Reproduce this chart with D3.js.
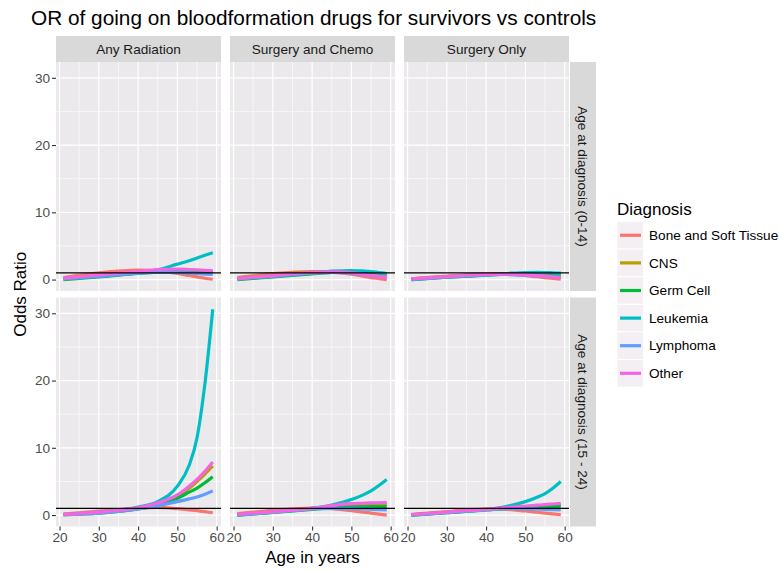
<!DOCTYPE html>
<html>
<head>
<meta charset="utf-8">
<script src="https://cdn.jsdelivr.net/npm/d3@7"></script>
<style>
  html, body { margin: 0; padding: 0; background: #ffffff; }
  svg { display: block; font-family: "Liberation Sans", Arial, sans-serif; }
</style>
</head>
<body>
<svg id="chart" width="779" height="571"></svg>
<script>
// Ages at which the smoothed odds ratios are drawn
const ages = [21, 30, 40, 45, 50, 53, 55, 57, 59];

const diagnoses = ["Bone and Soft Tissue", "CNS", "Germ Cell", "Leukemia", "Lymphoma", "Other"];
const diagnosisColors = ["#F8766D", "#B79F00", "#00BA38", "#00BFC4", "#619CFF", "#F564E3"];
const treatments = ["Any Radiation", "Surgery and Chemo", "Surgery Only"];
const ageGroups = ["Age at diagnosis (0-14)", "Age at diagnosis (15 - 24)"];
const xTicks = [20, 30, 40, 50, 60];
const yTicks = [0, 10, 20, 30];

// Odds ratios per panel; one row per diagnosis (same order as `diagnoses`)
const radiationYoung = [
  [0.30, 1.00, 1.40, 1.30, 0.90, 0.60, 0.40, 0.20, 0.05],
  [0.20, 0.70, 1.15, 1.35, 1.40, 1.35, 1.30, 1.25, 1.20],
  [0.00, 0.40, 0.90, 1.10, 1.25, 1.22, 1.20, 1.15, 1.10],
  [0.15, 0.50, 1.00, 1.45, 2.30, 2.80, 3.20, 3.60, 4.00],
  [0.10, 0.50, 0.95, 1.10, 1.05, 0.96, 0.90, 0.82, 0.75],
  [0.20, 0.70, 1.20, 1.50, 1.55, 1.50, 1.45, 1.38, 1.30]
];
const radiationOlder = [
  [0.15, 0.60, 1.00, 1.15, 0.95, 0.78, 0.65, 0.50, 0.35],
  [0.10, 0.40, 1.05, 1.70, 2.80, 4.00, 5.00, 6.10, 7.30],
  [0.05, 0.30, 0.90, 1.50, 2.50, 3.40, 4.00, 4.80, 5.70],
  [0.05, 0.45, 1.20, 2.00, 4.30, 7.40, 11.5, 19.5, 30.6],
  [0.05, 0.30, 0.90, 1.40, 2.00, 2.40, 2.70, 3.10, 3.60],
  [0.10, 0.45, 1.10, 1.80, 3.00, 4.30, 5.30, 6.50, 7.90]
];
const chemoYoung = [
  [0.30, 0.90, 1.20, 1.10, 0.80, 0.50, 0.30, 0.15, 0.00],
  [0.20, 0.70, 1.10, 1.15, 1.00, 0.82, 0.70, 0.60, 0.50],
  [0.00, 0.40, 0.85, 1.05, 1.15, 1.10, 1.05, 0.98, 0.90],
  [0.10, 0.50, 1.00, 1.25, 1.35, 1.28, 1.20, 1.05, 0.90],
  [0.10, 0.50, 0.95, 1.05, 0.90, 0.72, 0.60, 0.48, 0.35],
  [0.15, 0.60, 1.05, 1.15, 1.00, 0.78, 0.60, 0.45, 0.30]
];
const chemoOlder = [
  [0.20, 0.70, 1.05, 0.95, 0.65, 0.45, 0.30, 0.15, 0.00],
  [0.10, 0.50, 1.00, 1.30, 1.50, 1.57, 1.60, 1.60, 1.60],
  [0.00, 0.40, 0.85, 1.10, 1.20, 1.23, 1.25, 1.25, 1.25],
  [0.00, 0.40, 1.00, 1.50, 2.30, 3.00, 3.60, 4.40, 5.30],
  [0.05, 0.45, 0.90, 1.00, 0.95, 0.90, 0.85, 0.80, 0.75],
  [0.10, 0.50, 1.00, 1.40, 1.70, 1.76, 1.80, 1.83, 1.85]
];
const surgeryYoung = [
  [0.10, 0.50, 0.80, 0.80, 0.60, 0.42, 0.30, 0.18, 0.05],
  [0.10, 0.45, 0.75, 0.80, 0.70, 0.58, 0.50, 0.42, 0.35],
  [0.00, 0.35, 0.65, 0.80, 0.85, 0.83, 0.80, 0.75, 0.70],
  [0.00, 0.35, 0.70, 0.90, 1.05, 1.06, 1.05, 1.00, 0.95],
  [0.05, 0.40, 0.70, 0.75, 0.65, 0.56, 0.50, 0.42, 0.35],
  [0.10, 0.45, 0.75, 0.80, 0.70, 0.58, 0.50, 0.40, 0.30]
];
const surgeryOlder = [
  [0.10, 0.50, 0.90, 0.85, 0.60, 0.42, 0.30, 0.18, 0.05],
  [0.05, 0.45, 0.85, 1.05, 1.25, 1.35, 1.40, 1.45, 1.50],
  [0.00, 0.35, 0.75, 1.00, 1.15, 1.21, 1.25, 1.28, 1.30],
  [0.00, 0.35, 0.80, 1.25, 2.00, 2.65, 3.20, 4.00, 5.00],
  [0.05, 0.40, 0.80, 0.95, 0.90, 0.87, 0.85, 0.80, 0.75],
  [0.05, 0.45, 0.85, 1.10, 1.35, 1.47, 1.55, 1.65, 1.75]
];
const referenceOR = 1;

// Grid of panels: rows = age group, columns = treatment
const panelSeries = [
  [radiationYoung, chemoYoung, surgeryYoung],
  [radiationOlder, chemoOlder, surgeryOlder]
];

const svg = d3.select("#chart");

const panelW = 165, panelH = 229;
const colX = [56, 230, 404];
const rowY = [62, 297.5];
const stripH = 26;

const x = d3.scaleLinear().domain([19.1, 61.1]).range([0, panelW]);
const y = d3.scaleLinear().domain([-1.7, 32.35]).range([panelH, 0]);

const line = d3.line()
  .x((d, i) => x(ages[i]))
  .y(d => y(d))
  .curve(d3.curveMonotoneX);

// Title
svg.append("text")
  .attr("x", 31).attr("y", 25)
  .attr("font-size", 20.8).attr("fill", "#000")
  .text("OR of going on bloodformation drugs for survivors vs controls");

// Column strips
treatments.forEach((t, c) => {
  svg.append("rect")
    .attr("x", colX[c]).attr("y", rowY[0] - stripH)
    .attr("width", panelW).attr("height", stripH)
    .attr("fill", "#D9D9D9");
  svg.append("text")
    .attr("x", colX[c] + panelW / 2).attr("y", rowY[0] - stripH / 2)
    .attr("dy", "0.35em").attr("text-anchor", "middle")
    .attr("font-size", 13.6).attr("fill", "#1A1A1A")
    .text(t);
});

// Row strips
ageGroups.forEach((g, r) => {
  const sx = colX[2] + panelW + 1;
  svg.append("rect")
    .attr("x", sx).attr("y", rowY[r])
    .attr("width", stripH).attr("height", panelH)
    .attr("fill", "#D9D9D9");
  svg.append("text")
    .attr("transform", `translate(${sx + stripH / 2},${rowY[r] + panelH / 2}) rotate(90)`)
    .attr("dy", "0.35em").attr("text-anchor", "middle")
    .attr("font-size", 13.6).attr("fill", "#1A1A1A")
    .text(g);
});

const xMinor = [25, 35, 45, 55];
const yMinor = [5, 15, 25];

panelSeries.forEach((row, r) => {
  row.forEach((series, c) => {
    const g = svg.append("g").attr("transform", `translate(${colX[c]},${rowY[r]})`);
    g.append("rect").attr("width", panelW).attr("height", panelH).attr("fill", "#ECE9EC");

    // minor grid
    g.selectAll(".xm").data(xMinor).join("line")
      .attr("x1", d => x(d)).attr("x2", d => x(d)).attr("y1", 0).attr("y2", panelH)
      .attr("stroke", "#fff").attr("stroke-width", 0.6);
    g.selectAll(".ym").data(yMinor).join("line")
      .attr("y1", d => y(d)).attr("y2", d => y(d)).attr("x1", 0).attr("x2", panelW)
      .attr("stroke", "#fff").attr("stroke-width", 0.6);
    // major grid
    g.selectAll(".xM").data(xTicks).join("line")
      .attr("x1", d => x(d)).attr("x2", d => x(d)).attr("y1", 0).attr("y2", panelH)
      .attr("stroke", "#fff").attr("stroke-width", 1.2);
    g.selectAll(".yM").data(yTicks).join("line")
      .attr("y1", d => y(d)).attr("y2", d => y(d)).attr("x1", 0).attr("x2", panelW)
      .attr("stroke", "#fff").attr("stroke-width", 1.2);

    // smoothed curves
    series.forEach((vals, k) => {
      g.append("path")
        .attr("d", line(vals))
        .attr("fill", "none")
        .attr("stroke", diagnosisColors[k])
        .attr("stroke-width", 3.2)
        .attr("stroke-linecap", "butt");
    });

    // reference line at OR = 1
    g.append("line")
      .attr("x1", 0).attr("x2", panelW)
      .attr("y1", y(referenceOR)).attr("y2", y(referenceOR))
      .attr("stroke", "#000").attr("stroke-width", 1.4);

    // y axis on the first column
    if (c === 0) {
      const ya = g.append("g").call(d3.axisLeft(y).tickValues(yTicks).tickSize(4).tickPadding(2).tickFormat(d3.format("d")));
      ya.select(".domain").remove();
      ya.selectAll("line").attr("stroke", "#333").attr("stroke-width", 1.1);
      ya.selectAll("text").attr("font-size", 13.6).attr("fill", "#4D4D4D")
        .attr("font-family", "Liberation Sans, Arial, sans-serif");
    }
    // x axis under the bottom row
    if (r === 1) {
      const xa = g.append("g").attr("transform", `translate(0,${panelH})`)
        .call(d3.axisBottom(x).tickValues(xTicks).tickSize(4).tickPadding(2).tickFormat(d3.format("d")));
      xa.select(".domain").remove();
      xa.selectAll("line").attr("stroke", "#333").attr("stroke-width", 1.1);
      xa.selectAll("text").attr("font-size", 13.6).attr("fill", "#4D4D4D")
        .attr("font-family", "Liberation Sans, Arial, sans-serif");
    }
  });
});

// Axis titles
svg.append("text")
  .attr("x", (colX[0] + colX[2] + panelW) / 2).attr("y", 563)
  .attr("text-anchor", "middle").attr("font-size", 17).attr("fill", "#000")
  .text("Age in years");
svg.append("text")
  .attr("transform", `translate(26,${(rowY[0] + rowY[1] + panelH) / 2}) rotate(-90)`)
  .attr("text-anchor", "middle").attr("font-size", 17).attr("fill", "#000")
  .text("Odds Ratio");

// Legend
const legend = svg.append("g").attr("transform", "translate(617,0)");
legend.append("text").attr("x", 0).attr("y", 215)
  .attr("font-size", 17).attr("fill", "#000").text("Diagnosis");
const keyH = 27.6, keyTop = 221.5;
diagnoses.forEach((d, i) => {
  const ky = keyTop + i * keyH;
  legend.append("rect").attr("x", 0).attr("y", ky).attr("width", 26.5).attr("height", keyH)
    .attr("fill", "#F3EFF2").attr("stroke", "#fff").attr("stroke-width", 1);
  legend.append("line").attr("x1", 3).attr("x2", 24).attr("y1", ky + keyH / 2).attr("y2", ky + keyH / 2)
    .attr("stroke", diagnosisColors[i]).attr("stroke-width", 3.2);
  legend.append("text").attr("x", 32).attr("y", ky + keyH / 2).attr("dy", "0.35em")
    .attr("font-size", 13.6).attr("fill", "#000").text(d);
});
</script>
</body>
</html>
